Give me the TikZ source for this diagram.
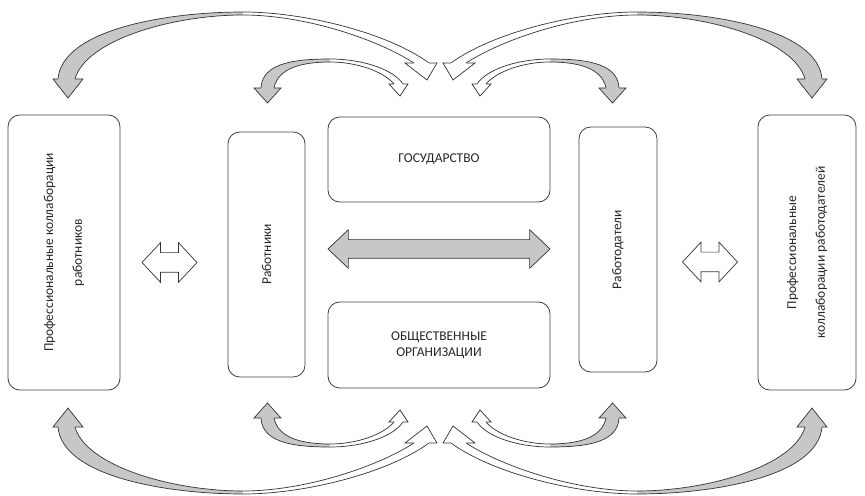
\documentclass[tikz,border=0pt]{standalone}
\usepackage{fontspec}
\setmainfont{Carlito}
\usetikzlibrary{shapes.arrows}

\tikzset{
    box/.style={draw=black!75, line width=0.7pt, rounded corners=3.5mm, align=center, text=black!85,
        font=\fontsize{11.5}{14}\selectfont},
    tallbox/.style={box, rotate=90, font=\fontsize{11.5}{24.5}\selectfont},
    ribline/.style={draw=black!80, line width=0.6pt},
    ribfill/.style={fill=black!22},
    dblarrow/.style={double arrow, draw=black!80, line width=0.6pt, inner xsep=0pt,
        double arrow head extend=3mm}
}

% one quarter of the curved arrows (upper left), mirrored below
\newcommand{\arcpair}{
    % outer arc
    \fill[ribfill] (58,79) .. controls (62,30) and (165,12) .. (243,12) -- (243,15) .. controls (172,15) and (86,40) .. (75,79) -- cycle;
    \fill[white] (243,12) .. controls (305,12) and (388,33) .. (429,63) -- (414,63) .. controls (375,38) and (303,15) .. (243,15) -- cycle;
    \draw[ribline] (58,79) .. controls (62,30) and (165,12) .. (243,12) .. controls (305,12) and (388,33) .. (429,63);
    \draw[ribline] (75,79) .. controls (86,40) and (172,15) .. (243,15) .. controls (303,15) and (375,38) .. (414,63);
    \filldraw[ribline, ribfill] (58,79) -- (53,79) -- (68,98) -- (83,79) -- (75,79);
    \filldraw[ribline, fill=white] (414,63) -- (405,63) -- (427,80) -- (437,63) -- (429,63);
    % inner arc
    \fill[ribfill] (261,88) .. controls (262,62) and (298,59) .. (330,59) -- (330,62) .. controls (302,62) and (278,68) .. (274,88) -- cycle;
    \fill[white] (330,59) .. controls (360,59) and (392,68) .. (403,84) -- (394,84) .. controls (383,71) and (356,62) .. (330,62) -- cycle;
    \draw[ribline] (261,88) .. controls (262,62) and (298,59) .. (330,59) .. controls (360,59) and (392,68) .. (403,84);
    \draw[ribline] (274,88) .. controls (278,68) and (302,62) .. (330,62) .. controls (356,62) and (383,71) .. (394,84);
    \filldraw[ribline, ribfill] (261,88) -- (254,88) -- (267.5,103) -- (281,88) -- (274,88);
    \filldraw[ribline, fill=white] (394,84) -- (389,84) -- (400,96) -- (408,84) -- (403,84);
}

\begin{document}
\begin{tikzpicture}[x=0.3mm, y=-0.3mm]
    \useasboundingbox (0,0) rectangle (865,496);

    \node[tallbox, minimum width=82.5mm, minimum height=33.6mm] (profW) at (64,252.5) {Профессиональные коллаборации\\работников};
    \node[tallbox, minimum width=73.5mm, minimum height=23.1mm] (rabotniki) at (266.5,254.5) {Работники};
    \node[box, minimum width=66.6mm, minimum height=25.5mm] (gos) at (439,159.5) {ГОСУДАРСТВО};
    \node[box, minimum width=66.6mm, minimum height=25.8mm] (obsh) at (439,345) {ОБЩЕСТВЕННЫЕ\\ОРГАНИЗАЦИИ};
    \node[tallbox, minimum width=73.5mm, minimum height=23.4mm] (rabotodateli) at (618,249.5) {Работодатели};
    \node[tallbox, minimum width=82.5mm, minimum height=29.4mm] (profE) at (807,252.5) {Профессиональные\\коллаборации работодателей};

    \node[dblarrow, fill=white, inner ysep=2.85mm, minimum height=16.5mm, minimum width=11.7mm,
        double arrow tip angle=94] (arrW) at (169.5,262.5) {};
    \node[dblarrow, fill=white, inner ysep=2.85mm, minimum height=16.5mm, minimum width=11.7mm,
        double arrow tip angle=94] (arrE) at (710,262) {};
    \node[dblarrow, ribfill, inner ysep=2.7mm, minimum height=66.6mm, minimum width=11.4mm,
        double arrow tip angle=87] (arrC) at (439,249) {};

    \foreach \sx/\sy in {1/1, -1/1, 1/-1, -1/-1} {
        \begin{scope}[shift={({440-440*(\sx)},{253-253*(\sy)})}, xscale=\sx, yscale=\sy]
            \arcpair
        \end{scope}
    }
\end{tikzpicture}
\end{document}
